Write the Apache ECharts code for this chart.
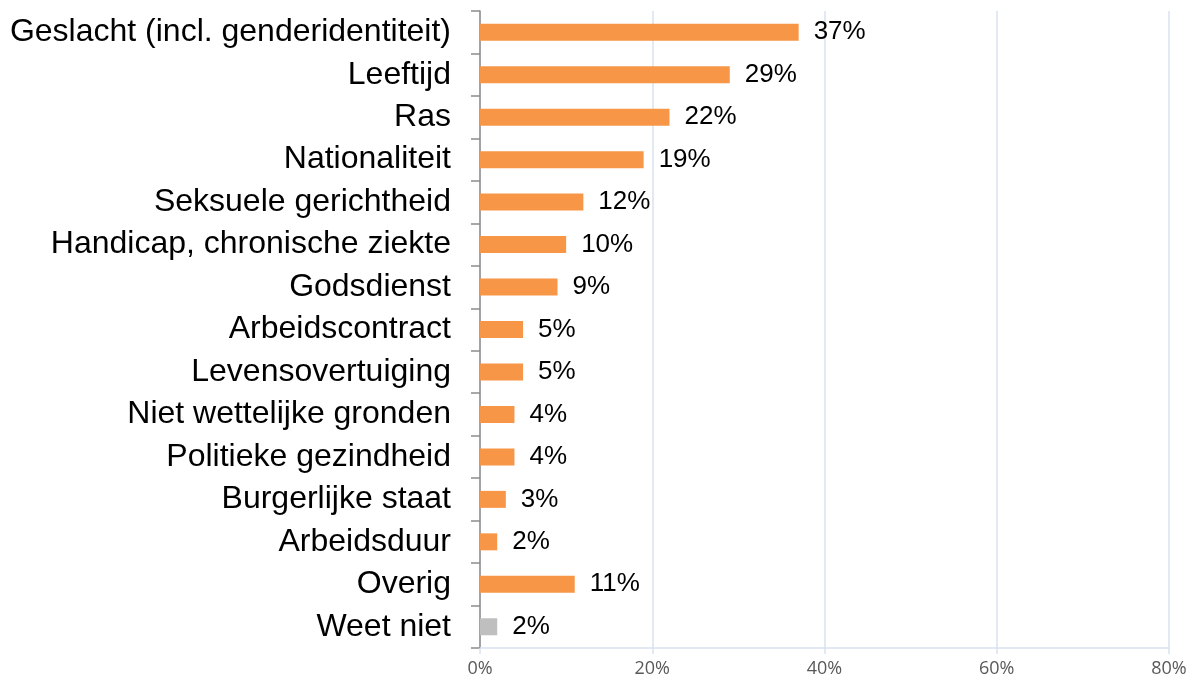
<!DOCTYPE html>
<html><head><meta charset="utf-8">
<script src="https://cdn.jsdelivr.net/npm/echarts@6/dist/echarts.min.js"></script>
<style>html,body{margin:0;padding:0;background:#fff}#c{width:1193px;height:686px}</style>
</head><body><div id="c"></div>
<script>
var categories = ["Geslacht (incl. genderidentiteit)","Leeftijd","Ras","Nationaliteit","Seksuele gerichtheid","Handicap, chronische ziekte","Godsdienst","Arbeidscontract","Levensovertuiging","Niet wettelijke gronden","Politieke gezindheid","Burgerlijke staat","Arbeidsduur","Overig","Weet niet"];
var values = [37,29,22,19,12,10,9,5,5,4,4,3,2,11,2];
var barColors = ["#F79646","#F79646","#F79646","#F79646","#F79646","#F79646","#F79646","#F79646","#F79646","#F79646","#F79646","#F79646","#F79646","#F79646","#BFBFBF"];
var xTicks = [0,20,40,60,80];

var chart = echarts.init(document.getElementById('c'), null, {renderer:'canvas'});
chart.setOption({
  animation:false,
  grid:{left:480,right:24,top:11,bottom:38,containLabel:false},
  xAxis:{type:'value',min:xTicks[0],max:xTicks[xTicks.length-1],interval:20,
    axisLine:{show:true,lineStyle:{color:'#D9E2F0',width:1.5}},
    axisTick:{show:true,length:6,lineStyle:{color:'#D9E2F0',width:1.5}},
    splitLine:{show:true,lineStyle:{color:'#D9E2F0',width:1.5}},
    axisLabel:{formatter:'{value}%',color:'#595959',fontSize:18,fontFamily:'Open Sans',margin:12}},
  yAxis:{type:'category',inverse:true,data:categories,
    axisLine:{show:true,lineStyle:{color:'#8C8C8C',width:1.5}},
    axisTick:{show:true,length:9,lineStyle:{color:'#8C8C8C',width:1.5}},
    axisLabel:{color:'#000',fontSize:32,fontFamily:'Liberation Sans',margin:29,padding:[4,0,0,0]}},
  series:[{type:'bar',barCategoryGap:'60%',
    data:values.map(function(v,i){return {value:v,itemStyle:{color:barColors[i]}};}),
    label:{show:true,position:'right',distance:15,formatter:'{c}%',color:'#000',fontSize:26,fontFamily:'Liberation Sans',padding:[4,0,0,0]}}]
});
</script></body></html>
